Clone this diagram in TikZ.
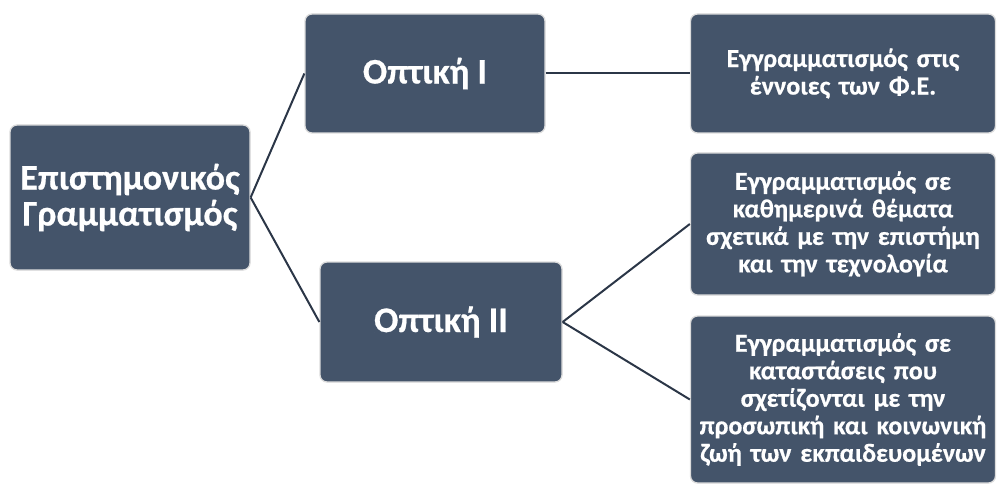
\documentclass[tikz,border=0pt]{standalone}
\usepackage{fontspec}
\setmainfont{Carlito}[BoldFeatures={FakeBold=0.6}]
\definecolor{boxfill}{HTML}{44546A}
\definecolor{boxedge}{HTML}{DCDCDC}
\definecolor{linkcol}{HTML}{2B3647}
% slightly wider inter-word gaps for the multi-line descriptions
\newcommand\widegaps{\spaceskip=0.34em plus 0.1em\relax}
\begin{document}
\begin{tikzpicture}[x=1pt,y=-1pt,
  box/.style={draw=boxedge, line width=1.3pt, fill=boxfill, rounded corners=7pt,
    text=white, align=center, inner sep=2pt},
  bigtext/.style={font=\fontsize{36}{36}\selectfont\bfseries},
  smalltext/.style={font=\fontsize{26}{27.5}\selectfont\bfseries\widegaps},
  link/.style={draw=linkcol, line width=2pt}]
\useasboundingbox (0,0) rectangle (997,484);

\node[box, bigtext, minimum width=240pt, minimum height=145pt] (root) at (130,197.5)
  {Επιστημονικός\\Γραμματισμός};
\node[box, bigtext, minimum width=240pt, minimum height=119pt] (o1) at (425,73.5)
  {Οπτική Ι};
\node[box, bigtext, minimum width=242pt, minimum height=120pt] (o2) at (441,322)
  {Οπτική ΙΙ};
\node[box, smalltext, minimum width=305pt, minimum height=119pt] (r1) at (843,73.5)
  {Εγγραμματισμός στις\\έννοιες των Φ.Ε.};
\node[box, smalltext, minimum width=305pt, minimum height=142pt] (r2) at (843,224)
  {Εγγραμματισμός σε\\καθημερινά θέματα\\σχετικά με την επιστήμη\\και την τεχνολογία};
\node[box, smalltext, minimum width=305pt, minimum height=167pt] (r3) at (843,399.5)
  {Εγγραμματισμός σε\\καταστάσεις που\\σχετίζονται με την\\προσωπική και κοινωνική\\ζωή των εκπαιδευομένων};

\draw[link] (root.east) -- (o1.west);
\draw[link] (root.east) -- (o2.west);
\draw[link] (o1.east) -- (r1.west);
\draw[link] (o2.east) -- (r2.west);
\draw[link] (o2.east) -- (r3.west);
\end{tikzpicture}
\end{document}
